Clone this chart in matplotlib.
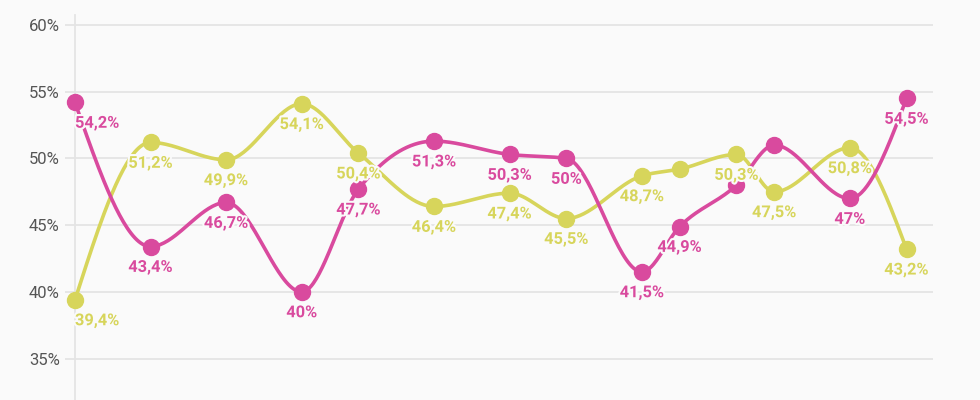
import matplotlib.pyplot as plt
import matplotlib.patheffects as pe
import numpy as np

# x positions (spacing, arbitrary units)
x_pos = [0, 4, 8, 12, 15, 19, 23, 26, 30, 32, 35, 37, 41, 44]

pink_vals = [54.2, 43.4, 46.7, 40.0, 47.7, 51.3, 50.3, 50.0, 41.5, 44.9, 48.0, 51.0, 47.0, 54.5]
yellow_vals = [39.4, 51.2, 49.9, 54.1, 50.4, 46.4, 47.4, 45.5, 48.7, 49.2, 50.3, 47.5, 50.8, 43.2]

# labels that are hidden in the original (overlaps) are left empty
pink_labels = ["54,2%", "43,4%", "46,7%", "40%", "47,7%", "51,3%", "50,3%", "50%",
               "41,5%", "44,9%", "", "", "47%", "54,5%"]
yellow_labels = ["39,4%", "51,2%", "49,9%", "54,1%", "50,4%", "46,4%", "47,4%", "45,5%",
                 "48,7%", "", "50,3%", "47,5%", "50,8%", "43,2%"]

y_ticks = [35, 40, 45, 50, 55, 60]

PINK = "#d94a9e"
YELLOW = "#d7d55b"
BG = "#fafafa"
GRID = "#e4e4e4"


def monotone_x(xs, ys, n=40):
    # same idea as d3.curveMonotoneX
    xs = np.asarray(xs, float)
    ys = np.asarray(ys, float)
    m = len(xs)
    t = np.zeros(m)
    for i in range(1, m - 1):
        h0 = xs[i] - xs[i - 1]
        h1 = xs[i + 1] - xs[i]
        s0 = (ys[i] - ys[i - 1]) / h0
        s1 = (ys[i + 1] - ys[i]) / h1
        p = (s0 * h1 + s1 * h0) / (h0 + h1)
        t[i] = (np.sign(s0) + np.sign(s1)) * min(abs(s0), abs(s1), 0.5 * abs(p))
    h = xs[1] - xs[0]
    t[0] = (3 * (ys[1] - ys[0]) / h - t[1]) / 2
    h = xs[-1] - xs[-2]
    t[-1] = (3 * (ys[-1] - ys[-2]) / h - t[-2]) / 2
    out_x, out_y = [], []
    u = np.linspace(0, 1, n)
    for i in range(m - 1):
        dx = (xs[i + 1] - xs[i]) / 3
        p0 = (xs[i], ys[i])
        p1 = (xs[i] + dx, ys[i] + dx * t[i])
        p2 = (xs[i + 1] - dx, ys[i + 1] - dx * t[i + 1])
        p3 = (xs[i + 1], ys[i + 1])
        bx = (1 - u) ** 3 * p0[0] + 3 * (1 - u) ** 2 * u * p1[0] + 3 * (1 - u) * u ** 2 * p2[0] + u ** 3 * p3[0]
        by = (1 - u) ** 3 * p0[1] + 3 * (1 - u) ** 2 * u * p1[1] + 3 * (1 - u) * u ** 2 * p2[1] + u ** 3 * p3[1]
        out_x.extend(bx)
        out_y.extend(by)
    return out_x, out_y


fig = plt.figure(figsize=(9.8, 4.0), dpi=100, facecolor=BG)
ax = fig.add_axes([75 / 980, 0, (933 - 75) / 980, 1 - 15 / 400])
ax.set_facecolor(BG)

for vals, labels, color in [(yellow_vals, yellow_labels, YELLOW), (pink_vals, pink_labels, PINK)]:
    cx, cy = monotone_x(x_pos, vals)
    ax.plot(cx, cy, color=color, lw=2.6, zorder=3, solid_capstyle="round", clip_on=False)
    ax.plot(x_pos, vals, "o", color=color, ms=11.5, zorder=4, clip_on=False)

for vals, labels, color in [(yellow_vals, yellow_labels, YELLOW), (pink_vals, pink_labels, PINK)]:
    for i, (xv, yv, lab) in enumerate(zip(x_pos, vals, labels)):
        if not lab:
            continue
        ax.annotate(lab, (xv, yv), xytext=(0, -15), textcoords="offset points",
                    ha="left" if i == 0 else "center", va="center",
                    color=color, fontsize=11.8, fontweight="bold", family="Roboto",
                    zorder=6,
                    path_effects=[pe.withStroke(linewidth=3, foreground=BG)])

ax.set_xlim(0, 45.4)
ax.set_ylim(31.9, 60.75)
ax.set_yticks(y_ticks)
ax.set_yticklabels([f"{v}%" for v in y_ticks], family="Roboto", fontsize=12, color="#555555")
ax.set_xticks([])
ax.grid(axis="y", color=GRID, lw=1.3, zorder=0)
ax.tick_params(axis="y", length=7, width=1.3, color=GRID, pad=4)
for s in ["top", "right", "bottom"]:
    ax.spines[s].set_visible(False)
ax.spines["left"].set_color(GRID)
ax.spines["left"].set_linewidth(1.3)

fig.savefig("out.png", dpi=100, facecolor=BG)
